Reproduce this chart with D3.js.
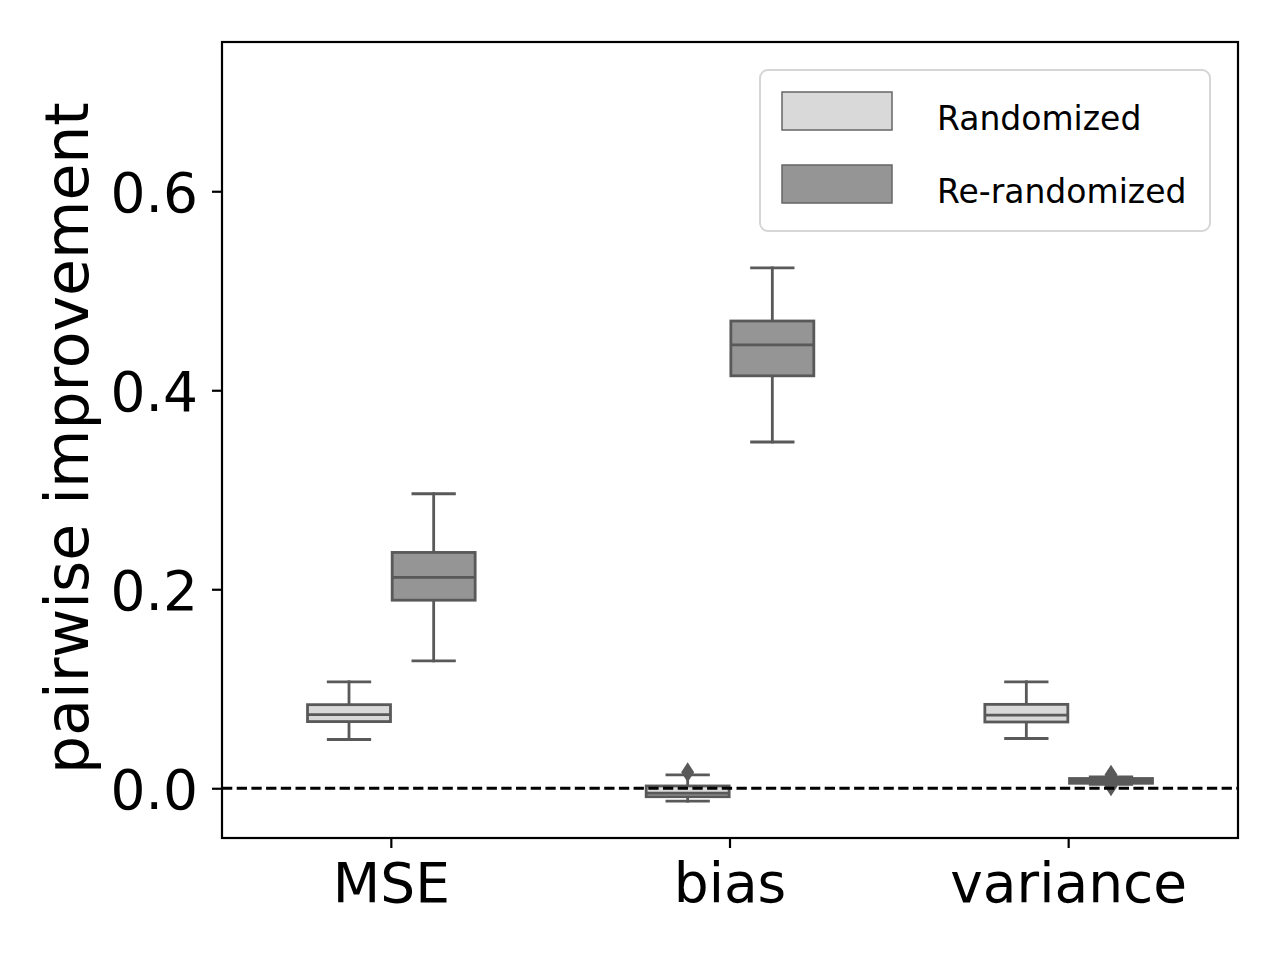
<!DOCTYPE html>
<html>
<head>
<meta charset="utf-8">
<script src="https://cdnjs.cloudflare.com/ajax/libs/d3/7.8.5/d3.min.js"></script>
<style>
  body { margin: 0; background: #fff; }
  text { font-family: "DejaVu Sans", sans-serif; }
</style>
</head>
<body>
<svg id="main" width="1280" height="960"></svg>
<script>
// categories and series
var categories = ["MSE", "bias", "variance"];
var series = ["Randomized", "Re-randomized"];
var yTicks = [0.0, 0.2, 0.4, 0.6];

// box stats per category
var randWhisLo = [0.049, -0.013, 0.050];
var randQ1     = [0.067, -0.0085, 0.0666];
var randMed    = [0.074, -0.005, 0.0735];
var randQ3     = [0.084, 0.0023, 0.0843];
var randWhisHi = [0.107, 0.0135, 0.107];
var randFliers = [[], [0.016], []];

var rerandWhisLo = [0.128, 0.348, 0.004];
var rerandQ1     = [0.189, 0.4145, 0.0050];
var rerandMed    = [0.212, 0.4456, 0.0078];
var rerandQ3     = [0.237, 0.4696, 0.0098];
var rerandWhisHi = [0.296, 0.523, 0.0115];
var rerandFliers = [[], [], [0.0135, 0.002]];

drawChart();

function drawChart() {

    var fills = ["#d9d9d9", "#959595"];
    var lineColor = "#595959";

    // plot area (axes frame)
    var pLeft = 222, pRight = 1238, pTop = 42, pBottom = 838;

    var svg = d3.select("svg#main");

    var x = d3.scaleBand().domain(categories).range([pLeft, pRight]).padding(0);
    var hueX = d3.scaleBand().domain(series).range([-0.25, 0.25]);
    var y = d3.scaleLinear().domain([-0.05, 0.75]).range([pBottom, pTop]);

    function buildBoxes(name, lo, q1, med, q3, hi, fl) {
        return categories.map(function (c, i) {
            return {cat: c, series: name, lo: lo[i], q1: q1[i], med: med[i], q3: q3[i], hi: hi[i], fliers: fl[i]};
        });
    }
    var boxes = buildBoxes(series[0], randWhisLo, randQ1, randMed, randQ3, randWhisHi, randFliers)
        .concat(buildBoxes(series[1], rerandWhisLo, rerandQ1, rerandMed, rerandQ3, rerandWhisHi, rerandFliers));

    var bw = x.bandwidth();
    var boxW = hueX.bandwidth() * bw * 0.98;
    var capW = boxW * 0.5;

    function cx(d) {
        return x(d.cat) + bw / 2 + (hueX(d.series) + hueX.bandwidth() / 2) * bw;
    }

    var box = svg.append("g").selectAll("g.box").data(boxes).enter().append("g").attr("class", "box");

    // whiskers
    box.append("line")
        .attr("x1", cx).attr("x2", cx)
        .attr("y1", function (d) { return y(d.q3); })
        .attr("y2", function (d) { return y(d.hi); });
    box.append("line")
        .attr("x1", cx).attr("x2", cx)
        .attr("y1", function (d) { return y(d.q1); })
        .attr("y2", function (d) { return y(d.lo); });
    // caps
    box.append("line")
        .attr("x1", function (d) { return cx(d) - capW / 2; })
        .attr("x2", function (d) { return cx(d) + capW / 2; })
        .attr("y1", function (d) { return y(d.hi); })
        .attr("y2", function (d) { return y(d.hi); });
    box.append("line")
        .attr("x1", function (d) { return cx(d) - capW / 2; })
        .attr("x2", function (d) { return cx(d) + capW / 2; })
        .attr("y1", function (d) { return y(d.lo); })
        .attr("y2", function (d) { return y(d.lo); });
    box.selectAll("line")
        .style("stroke", lineColor).style("stroke-width", 2.8).style("stroke-linecap", "square");

    box.append("rect")
        .attr("x", function (d) { return cx(d) - boxW / 2; })
        .attr("width", boxW)
        .attr("y", function (d) { return y(d.q3); })
        .attr("height", function (d) { return y(d.q1) - y(d.q3); })
        .style("fill", function (d) { return fills[series.indexOf(d.series)]; })
        .style("stroke", lineColor).style("stroke-width", 2.8);

    box.append("line")
        .attr("x1", function (d) { return cx(d) - boxW / 2; })
        .attr("x2", function (d) { return cx(d) + boxW / 2; })
        .attr("y1", function (d) { return y(d.med); })
        .attr("y2", function (d) { return y(d.med); })
        .style("stroke", lineColor).style("stroke-width", 2.8);

    // outliers as thin diamonds
    box.selectAll("path.flier")
        .data(function (d) { return d.fliers.map(function (v) { return {v: v, x: cx(d)}; }); })
        .enter().append("path")
        .attr("class", "flier")
        .attr("d", function (f) {
            var px = f.x, py = y(f.v);
            return "M" + px + "," + (py - 10) + "L" + (px + 6.5) + "," + py + "L" + px + "," + (py + 10) + "L" + (px - 6.5) + "," + py + "Z";
        })
        .style("fill", lineColor);

    // zero line
    svg.append("line")
        .attr("x1", pLeft).attr("x2", pRight)
        .attr("y1", y(0)).attr("y2", y(0))
        .style("stroke", "#000").style("stroke-width", 2.8)
        .style("stroke-dasharray", "10.3,4.4");

    // frame
    svg.append("rect")
        .attr("x", pLeft).attr("y", pTop)
        .attr("width", pRight - pLeft).attr("height", pBottom - pTop)
        .style("fill", "none").style("stroke", "#000").style("stroke-width", 2.2);

    // axes
    var yAxis = d3.axisLeft(y).tickValues(yTicks).tickFormat(d3.format(".1f")).tickSizeOuter(0).tickSize(10).tickPadding(14);
    var xAxis = d3.axisBottom(x).tickSizeOuter(0).tickSize(10).tickPadding(12);

    var ya = svg.append("g").attr("transform", "translate(" + pLeft + ",0)").call(yAxis);
    var xa = svg.append("g").attr("transform", "translate(0," + pBottom + ")").call(xAxis);
    [ya, xa].forEach(function (a) {
        a.select(".domain").remove();
        a.selectAll(".tick line").style("stroke", "#000").style("stroke-width", 2.2);
        a.selectAll(".tick text").style("font-family", "DejaVu Sans").attr("fill", "#000");
    });
    ya.selectAll(".tick text").style("font-size", "55px").attr("dy", "0.36em");
    xa.selectAll(".tick text").style("font-size", "55px").attr("dy", "0.76em");

    // y label
    svg.append("text")
        .attr("transform", "translate(88," + 438 + ") rotate(-90)")
        .attr("text-anchor", "middle")
        .style("font-size", "60px")
        .text("pairwise improvement");

    // legend
    var leg = svg.append("g");
    leg.append("rect")
        .attr("x", 760).attr("y", 70).attr("width", 450).attr("height", 161)
        .attr("rx", 8).attr("ry", 8)
        .style("fill", "#fff").style("stroke", "#d6d6d6").style("stroke-width", 2);

    var item = leg.selectAll("g.item").data(series).enter().append("g")
        .attr("transform", function (d, i) { return "translate(0," + (i * 73) + ")"; });
    item.append("rect")
        .attr("x", 782).attr("y", 92).attr("width", 110).attr("height", 38)
        .style("fill", function (d, i) { return fills[i]; })
        .style("stroke", "#666").style("stroke-width", 1.5);
    item.append("text")
        .attr("x", 937).attr("y", 130)
        .style("font-size", "33px")
        .text(function (d) { return d; });
}
</script>
</body>
</html>
